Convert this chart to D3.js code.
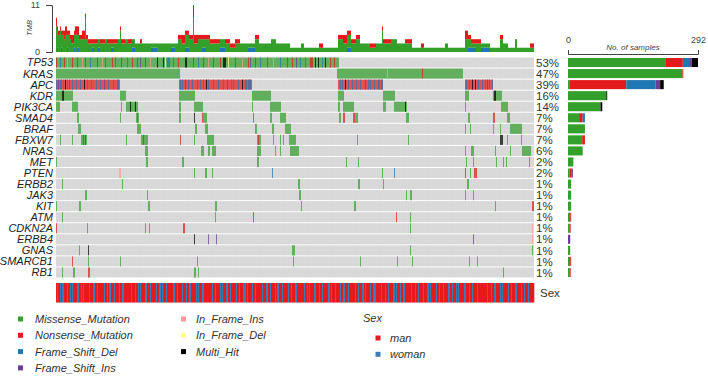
<!DOCTYPE html>
<html>
<head>
<meta charset="utf-8">
<script src="https://cdn.jsdelivr.net/npm/d3@7"></script>
<style>
body{margin:0;background:#fff}
svg{display:block;font-family:"Liberation Sans",Arial,sans-serif}
</style>
</head>
<body>
<svg id="onco" width="708" height="378"></svg>
<script>
// genes, top to bottom
var genes = ["TP53","KRAS","APC","KDR","PIK3CA","SMAD4","BRAF","FBXW7","NRAS","MET",
             "PTEN","ERBB2","JAK3","KIT","ATM","CDKN2A","ERBB4","GNAS","SMARCB1","RB1"];
var pctLabels = ["53%","47%","39%","16%","14%","7%","7%","7%","6%","2%",
                 "2%","1%","1%","1%","1%","1%","1%","1%","1%","1%"];
var nSamples = 478;

// variant classes: M Missense, N Nonsense, D Frame_Shift_Del, I Frame_Shift_Ins,
// i In_Frame_Ins, d In_Frame_Del, X Multi_Hit
var classNames = ["Missense_Mutation","Nonsense_Mutation","Frame_Shift_Del","Frame_Shift_Ins",
                  "In_Frame_Ins","In_Frame_Del","Multi_Hit"];
var classCodes = ["M","N","D","I","i","d","X"];
var classColors = ["#33a02c","#e31a1c","#1f78b4","#6a3d9a","#fb9a99","#ffff99","#000000"];

// per gene mutated samples: [first sample, number of samples, class]
var mutTP53 = [[0,283,"M"],[0,1,"N"],[4,1,"D"],[8,1,"N"],[11,1,"i"],[16,1,"N"],[21,1,"N"],[26,1,"i"],[29,1,"N"],
  [34,1,"D"],[41,1,"N"],[46,1,"i"],[49,1,"N"],[56,1,"N"],[59,1,"D"],[65,1,"N"],[71,1,"D"],[76,1,"N"],[81,1,"N"],
  [84,1,"I"],[89,1,"N"],[94,1,"i"],[101,1,"X"],[107,1,"X"],[109,1,"d"],[111,3,"D"],[117,1,"D"],[122,1,"N"],
  [129,2,"X"],[137,1,"N"],[142,1,"D"],[147,1,"N"],[152,1,"i"],[157,1,"N"],[164,1,"N"],[167,3,"X"],[172,1,"d"],
  [179,1,"N"],[186,1,"i"],[192,1,"N"],[194,1,"I"],[199,1,"N"],[204,1,"D"],[211,1,"N"],[217,1,"i"],[224,1,"D"],
  [231,1,"N"],[236,1,"N"],[240,1,"I"],[244,1,"D"],[249,1,"D"],[254,3,"N"],[259,1,"X"],[262,1,"X"],[266,1,"D"],
  [269,1,"X"],[274,1,"N"],[278,1,"N"]];
var mutKRAS = [[0,124,"M"],[281,126,"M"],[331,1,"i"],[366,1,"N"]];
var mutAPC = [[0,64,"N"],[123,73,"N"],[282,45,"N"],[409,28,"N"],
  [0,1,"D"],[2,1,"I"],[4,2,"D"],[7,1,"D"],[9,1,"X"],[11,1,"D"],[13,1,"I"],[16,1,"D"],[20,1,"D"],[24,1,"D"],
  [28,1,"X"],[31,1,"D"],[35,1,"D"],[40,1,"D"],[44,1,"D"],[48,1,"I"],[52,1,"D"],[57,1,"D"],[61,2,"D"],
  [124,1,"D"],[126,1,"D"],[129,1,"I"],[132,1,"D"],[136,1,"D"],[141,1,"D"],[144,1,"D"],[147,1,"D"],[150,1,"X"],
  [152,1,"D"],[157,1,"D"],[162,1,"D"],[167,1,"D"],[171,1,"I"],[175,1,"D"],[177,1,"D"],[182,1,"D"],[186,1,"X"],
  [189,2,"D"],[192,3,"D"],
  [284,1,"D"],[286,1,"D"],[289,1,"X"],[292,1,"D"],[296,1,"D"],[300,1,"D"],[304,1,"D"],[309,1,"I"],[312,1,"D"],
  [314,1,"D"],[318,1,"D"],[322,2,"D"],[325,2,"D"],
  [410,1,"D"],[413,1,"D"],[416,1,"X"],[419,1,"X"],[422,1,"D"],[426,1,"D"],[429,1,"D"],[431,1,"I"],[433,1,"D"],[436,1,"D"]];
var mutKDR = [[0,17,"M"],[6,2,"X"],[64,6,"M"],[123,16,"M"],[196,19,"M"],[282,6,"M"],[327,12,"M"],[409,4,"M"],
  [437,9,"M"],[438,2,"X"]];
var mutPIK3CA = [[0,4,"M"],[16,6,"M"],[65,1,"M"],[70,12,"M"],[74,1,"X"],[79,1,"X"],[123,2,"M"],[138,9,"M"],
  [196,1,"M"],[214,11,"M"],[282,2,"M"],[287,11,"M"],[327,3,"M"],[338,13,"M"],[349,1,"X"],[409,1,"M"],[445,7,"M"]];
var mutSMAD4 = [[21,2,"M"],[64,1,"M"],[80,3,"M"],[81,1,"D"],[123,2,"M"],[138,1,"X"],[146,1,"N"],[147,4,"M"],
  [197,1,"D"],[214,2,"M"],[224,6,"M"],[283,2,"M"],[287,2,"N"],[297,2,"N"],[299,3,"M"],[350,3,"M"],[412,2,"M"],
  [437,2,"N"],[451,3,"M"]];
var mutBRAF = [[22,3,"M"],[81,4,"M"],[139,2,"M"],[149,3,"M"],[199,2,"M"],[216,2,"M"],[229,6,"M"],[409,1,"M"],
  [414,1,"M"],[437,1,"M"],[444,1,"M"],[454,12,"M"]];
var mutFBXW7 = [[4,1,"M"],[16,1,"M"],[25,6,"M"],[27,1,"N"],[29,1,"N"],[70,1,"M"],[85,7,"M"],[87,1,"N"],
  [124,1,"N"],[138,1,"M"],[151,7,"M"],[201,4,"M"],[202,1,"N"],[217,1,"M"],[224,1,"M"],[227,1,"M"],[233,7,"M"],
  [301,1,"M"],[352,1,"M"],[444,3,"X"],[451,1,"M"],[465,1,"M"]];
var mutNRAS = [[89,3,"M"],[145,3,"M"],[152,2,"M"],[156,4,"M"],[201,4,"M"],[219,1,"M"],[224,1,"M"],[234,9,"M"],
  [409,1,"M"],[415,3,"M"],[439,1,"M"],[454,1,"M"],[466,9,"M"]];
var mutMET = [[0,1,"M"],[90,2,"M"],[126,2,"M"],[201,2,"M"],[290,1,"M"],[302,1,"M"],[410,1,"M"],[417,1,"M"],
  [440,1,"M"],[447,1,"M"],[450,1,"M"],[473,1,"M"]];
var mutPTEN = [[63,2,"i"],[138,1,"M"],[149,2,"M"],[156,1,"M"],[216,1,"D"],[326,1,"M"],[338,1,"D"],[409,1,"I"],
  [414,1,"M"],[418,3,"N"]];
var mutERBB2 = [[6,1,"M"],[66,1,"M"],[242,2,"M"],[302,2,"M"],[327,1,"M"],[411,2,"M"]];
var mutJAK3 = [[29,2,"M"],[91,1,"M"],[243,2,"M"],[350,1,"M"],[354,2,"M"],[409,1,"M"],[417,1,"M"]];
var mutKIT = [[0,1,"M"],[23,2,"M"],[92,2,"M"],[159,2,"M"],[245,1,"M"],[298,2,"M"],[439,1,"M"],[476,2,"N"]];
var mutATM = [[6,1,"M"],[159,1,"M"],[197,1,"N"],[340,1,"N"],[354,1,"M"]];
var mutCDKN2A = [[0,1,"N"],[31,1,"M"],[89,1,"M"],[93,1,"M"],[127,2,"N"],[354,1,"M"],[476,1,"i"]];
var mutERBB4 = [[138,1,"X"],[152,1,"I"],[160,1,"I"],[417,1,"I"],[476,1,"i"]];
var mutGNAS = [[23,1,"M"],[32,1,"X"],[236,3,"M"],[354,1,"M"],[476,1,"M"]];
var mutSMARCB1 = [[16,1,"N"],[32,1,"M"],[64,1,"M"],[141,1,"M"],[237,1,"M"],[304,1,"M"],[341,1,"M"],
  [356,1,"M"],[413,1,"M"],[421,1,"M"]];
var mutRB1 = [[6,1,"M"],[17,2,"M"],[32,2,"N"],[138,2,"M"],[142,1,"M"],[447,1,"M"]];

// TMB: runs of [samples, missense, nonsense, frame shift del]
var tmbRuns = [[1,6,2,0],[1,4,1,1],[2,4,1,0],[1,5,1,0],[1,3,1,1],[2,4,1,0],[1,3,2,0],[2,4,2,0],[1,3,1,1],
  [2,4,1,0],[1,3,1,0],[3,2,2,0],[1,3,1,1],[2,4,2,0],[2,3,2,1],[3,3,1,0],[3,3,2,0],[1,8,1,0],[2,3,1,0],
  [4,2,1,0],[2,1,1,1],[4,2,1,0],[2,2,0,1],[5,2,1,0],[2,3,0,0],[4,2,1,0],[3,1,1,1],[4,2,1,0],[2,3,0,0],
  [1,5,1,0],[4,2,1,0],[3,3,0,0],[4,2,1,0],[3,2,0,1],[5,2,0,0],[2,2,1,0],[3,2,0,0],[6,2,0,0],[6,1,0,1],
  [8,2,0,0],[6,2,0,0],[4,1,0,1],[3,2,0,0],[4,3,1,0],[3,2,2,0],[4,3,1,1],[4,3,1,0],[1,8,3,0],[4,2,2,0],
  [4,3,1,0],[4,2,1,1],[4,3,1,0],[10,2,1,0],[5,2,0,1],[5,2,1,0],[5,1,1,0],[5,2,1,0],[8,2,0,0],[7,1,0,1],
  [4,3,1,0],[4,2,0,0],[8,2,0,0],[5,3,0,0],[14,2,0,0],[11,1,0,0],[3,2,0,0],[15,1,0,0],[4,1,1,0],[15,1,0,0],
  [5,3,1,0],[4,2,2,0],[4,3,1,1],[5,2,1,0],[4,3,1,0],[10,2,0,0],[6,1,1,0],[6,2,0,0],[1,5,1,0],[8,2,1,0],
  [6,3,0,0],[8,2,0,0],[7,2,1,0],[9,1,0,0],[3,1,1,0],[21,1,0,0],[3,2,0,0],[17,1,0,0],[3,3,2,0],[3,2,1,1],
  [5,1,1,1],[5,2,1,0],[9,1,0,1],[10,1,0,0],[3,3,1,0],[5,2,0,0],[7,1,0,0],[2,3,0,0],[13,1,0,0],[4,1,1,0]];
var tmbTicks = [0, 11];

// Sex: alternating run lengths, man first
var sexRuns = [1,1,2,1,1,2,3,1,2,1,1,1,4,2,2,1,1,1,5,1,
  3,2,2,1,6,1,2,1,1,2,3,1,4,1,2,2,7,1,3,1,
  2,1,1,1,4,2,3,1,5,1,2,2,1,1,3,1,6,2,2,1,
  4,1,3,1,2,2,5,1,1,1,3,2,8,1,2,1,4,1,1,1,
  3,2,2,1,5,1,2,1,3,3,1,1,4,1,2,1,6,1,3,2,
  2,1,4,1,1,2,3,1,5,1,2,1,3,2,7,1,2,1,1,1,
  4,2,3,1,2,1,5,2,1,1,3,1,4,1,2,2,3,1,6,1,
  2,1,3,2,1,1,4,1,2,3,5,1,3,1,2,1,4,2,1,1,
  3,1,2,2,6,1,3,1,2,1,4,1,3,2,1,1,5,1,2,1,
  3,1,4,2,2,1,3,1,1,1,5,2,3,1,2,1,4,1,9,1,
  3,1,2,2,4,1,1,1,5,1,2,1,3,2,4,1,2,1,3,1,5];
var sexLevels = ["man","woman"];
var sexColors = ["#e41a1c","#377eb8"];

// side bar: samples per gene by class
var sideMis   = [220,257,3,86,73,25,38,32,33,12,4,7,7,7,5,4,0,5,5,4];
var sideNon   = [38,2,128,0,0,8,0,6,0,0,3,0,0,0,2,2,0,0,2,2];
var sideDel   = [16,0,66,0,0,5,0,0,0,0,2,0,0,0,0,0,0,0,0,0];
var sideIns   = [4,0,10,0,0,0,0,0,0,0,2,0,0,0,0,0,5,0,0,0];
var sideMulti = [14,0,8,2,4,0,0,0,0,0,0,0,0,0,0,0,0,0,0,0];
var sideTicks = [0, 292];

var geneMuts = [mutTP53,mutKRAS,mutAPC,mutKDR,mutPIK3CA,mutSMAD4,mutBRAF,mutFBXW7,mutNRAS,mutMET,
  mutPTEN,mutERBB2,mutJAK3,mutKIT,mutATM,mutCDKN2A,mutERBB4,mutGNAS,mutSMARCB1,mutRB1];

var colorOf = {};
classCodes.forEach(function(c, i){ colorOf[c] = classColors[i]; });

var svg = d3.select("#onco");

var x = d3.scaleBand().domain(d3.range(nSamples)).range([56, 534]);
var y = d3.scaleBand().domain(genes).range([57.5, 277.5]).paddingInner(0.09);
var step = x.step();

// ---- matrix
var mat = svg.append("g");
mat.selectAll("rect.bg")
  .data(genes)
  .enter().append("rect")
  .attr("class", "bg")
  .attr("x", 56).attr("width", 478)
  .attr("y", function(d){ return y(d); })
  .attr("height", y.bandwidth())
  .attr("fill", "#d7d7d7");

// faint column separators, as in the original tile grid
mat.selectAll("line.sep")
  .data(d3.range(0, nSamples, 3))
  .enter().append("line")
  .attr("x1", function(d){ return x(d); }).attr("x2", function(d){ return x(d); })
  .attr("y1", 57.5).attr("y2", 277.5)
  .attr("stroke", "#fff").attr("stroke-opacity", 0.22).attr("stroke-width", 0.6);

genes.forEach(function(g, gi){
  mat.append("g").selectAll("rect")
    .data(geneMuts[gi])
    .enter().append("rect")
    .attr("x", function(d){ return x(d[0]); })
    .attr("width", function(d){ return d[1] * step; })
    .attr("y", y(g))
    .attr("height", y.bandwidth())
    .attr("fill", function(d){ return colorOf[d[2]]; })
    .attr("fill-opacity", 0.72);
});

// gene labels
svg.append("g").selectAll("text")
  .data(genes)
  .enter().append("text")
  .attr("x", 53)
  .attr("y", function(d){ return y(d) + y.bandwidth() / 2; })
  .attr("dy", "0.36em")
  .attr("text-anchor", "end")
  .attr("font-size", 11)
  .attr("font-style", "italic")
  .attr("fill", "#222")
  .text(function(d){ return d; });

// percent labels
svg.append("g").selectAll("text")
  .data(genes)
  .enter().append("text")
  .attr("x", 536)
  .attr("y", function(d){ return y(d) + y.bandwidth() / 2; })
  .attr("dy", "0.36em")
  .attr("font-size", 11.5)
  .attr("fill", "#333")
  .text(function(d, i){ return pctLabels[i]; });

// ---- TMB bars
var tmbRows = [];
tmbRuns.forEach(function(r){
  for (var k = 0; k < r[0]; k++) tmbRows.push({D: r[3], M: r[1], N: r[2]});
});
while (tmbRows.length < nSamples) tmbRows.push(tmbRows[tmbRows.length - 1]);
tmbRows = tmbRows.slice(0, nSamples);
tmbRows.forEach(function(d, i){ d.idx = i; });

var tmbY = d3.scaleLinear().domain([0, 11]).range([52, 5]);
var stack = d3.stack().keys(["D","M","N"]);
var tmbColors = {D: colorOf.D, M: colorOf.M, N: colorOf.N};
svg.append("g").selectAll("g")
  .data(stack(tmbRows))
  .enter().append("g")
  .attr("fill", function(s){ return tmbColors[s.key]; })
  .selectAll("rect")
  .data(function(s){ return s; })
  .enter().append("rect")
  .attr("x", function(d){ return x(d.data.idx); })
  .attr("width", step)
  .attr("y", function(d){ return tmbY(d[1]); })
  .attr("height", function(d){ return tmbY(d[0]) - tmbY(d[1]); });

var tmbAxis = svg.append("g")
  .attr("transform", "translate(52,0)")
  .call(d3.axisLeft(tmbY).tickValues(tmbTicks).tickSizeInner(0).tickSizeOuter(6).tickPadding(12));
tmbAxis.select(".domain").attr("stroke", "#444");
tmbAxis.selectAll("text").attr("font-size", 9).attr("fill", "#444").attr("font-family", "Liberation Sans, Arial, sans-serif");

svg.append("text")
  .attr("transform", "translate(32,28) rotate(-90)")
  .attr("text-anchor", "middle")
  .attr("font-size", 7.5)
  .attr("font-style", "italic")
  .attr("fill", "#444")
  .text("TMB");

// ---- side bars
var sideX = d3.scaleLinear().domain([0, 292]).range([568, 698]);
var sideKeys = ["M","N","D","I","X"];
var sideRows = genes.map(function(g, i){
  return {gene: g, M: sideMis[i], N: sideNon[i], D: sideDel[i], I: sideIns[i], X: sideMulti[i]};
});
var sideStack = d3.stack().keys(sideKeys);
svg.append("g").selectAll("g")
  .data(sideStack(sideRows))
  .enter().append("g")
  .attr("fill", function(s){ return colorOf[s.key]; })
  .selectAll("rect")
  .data(function(s){ return s; })
  .enter().append("rect")
  .attr("x", function(d){ return sideX(d[0]); })
  .attr("width", function(d){ return sideX(d[1]) - sideX(d[0]); })
  .attr("y", function(d){ return y(d.data.gene) + 0.5; })
  .attr("height", y.bandwidth() - 1);

var sideAxis = svg.append("g")
  .attr("transform", "translate(0,54)")
  .call(d3.axisTop(sideX).tickValues(sideTicks).tickSizeInner(0).tickSizeOuter(4).tickPadding(11));
sideAxis.select(".domain").attr("stroke", "#444");
sideAxis.selectAll("text").attr("font-size", 9).attr("fill", "#444").attr("font-family", "Liberation Sans, Arial, sans-serif");

svg.append("text")
  .attr("x", 633).attr("y", 50)
  .attr("text-anchor", "middle")
  .attr("font-size", 8)
  .attr("font-style", "italic")
  .attr("fill", "#444")
  .text("No. of samples");

// ---- sex track
var sexVals = [];
sexRuns.forEach(function(n, i){
  for (var k = 0; k < n; k++) sexVals.push(i % 2);
});
while (sexVals.length < nSamples) sexVals.push(0);
sexVals = sexVals.slice(0, nSamples);

svg.append("g").selectAll("rect")
  .data(sexVals)
  .enter().append("rect")
  .attr("x", function(d, i){ return x(i); })
  .attr("width", step + 0.3)
  .attr("y", 283)
  .attr("height", 19.5)
  .attr("fill", function(d){ return sexColors[d]; });

svg.append("text")
  .attr("x", 540).attr("y", 293)
  .attr("dy", "0.36em")
  .attr("font-size", 11.5)
  .attr("fill", "#333")
  .text("Sex");

// ---- legends
var legItems = classNames.map(function(n, i){
  var col = i < 4 ? 0 : 1;
  var row = i < 4 ? i : i - 4;
  return {name: n, color: classColors[i], col: col, row: row};
});
var leg = svg.append("g");
leg.selectAll("rect")
  .data(legItems)
  .enter().append("rect")
  .attr("x", function(d){ return d.col ? 181 : 18; })
  .attr("y", function(d){ return 316.5 + d.row * 16.3; })
  .attr("width", 5).attr("height", 5)
  .attr("fill", function(d){ return d.color; });
leg.selectAll("text")
  .data(legItems)
  .enter().append("text")
  .attr("x", function(d){ return d.col ? 196 : 35; })
  .attr("y", function(d){ return 319 + d.row * 16.3; })
  .attr("dy", "0.36em")
  .attr("font-size", 11)
  .attr("font-style", "italic")
  .attr("fill", "#333")
  .text(function(d){ return d.name; });

svg.append("text")
  .attr("x", 363).attr("y", 318)
  .attr("dy", "0.36em")
  .attr("font-size", 11)
  .attr("font-style", "italic")
  .attr("fill", "#333")
  .text("Sex");
var sexLeg = svg.append("g");
sexLeg.selectAll("rect")
  .data(sexLevels)
  .enter().append("rect")
  .attr("x", 375.5)
  .attr("y", function(d, i){ return 335.5 + i * 16.3; })
  .attr("width", 5).attr("height", 5)
  .attr("fill", function(d, i){ return sexColors[i]; });
sexLeg.selectAll("text")
  .data(sexLevels)
  .enter().append("text")
  .attr("x", 390)
  .attr("y", function(d, i){ return 338 + i * 16.3; })
  .attr("dy", "0.36em")
  .attr("font-size", 11)
  .attr("font-style", "italic")
  .attr("fill", "#333")
  .text(function(d){ return d; });
</script>
</body>
</html>
